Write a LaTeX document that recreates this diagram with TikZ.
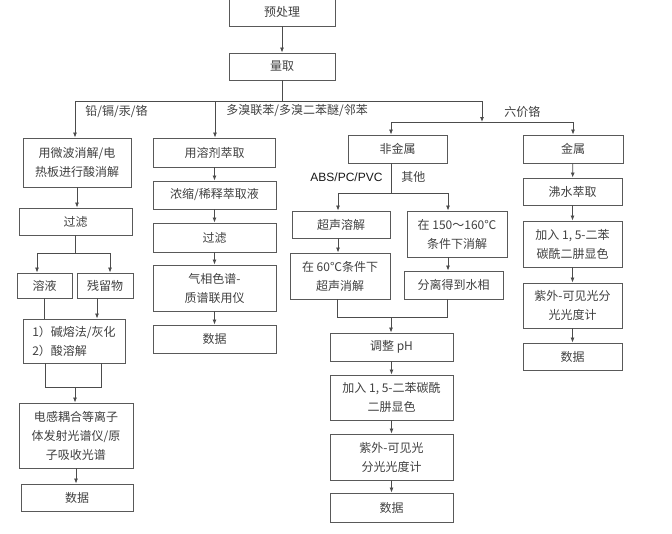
\documentclass[tikz,border=0pt]{standalone}
\usepackage{fontspec}
\usepackage{tikz}
\usetikzlibrary{arrows.meta}
\newfontfamily\cjkfont{Noto Sans CJK SC}
\newfontfamily\absfont{Liberation Sans}

\begin{document}
\begin{tikzpicture}[x=1pt,y=-1pt,line width=0.8pt,color=black!70,
            box/.style = {draw=black!65, line width=0.9pt, inner sep=0pt,
                        align=center, text=black!75,
                        font=\cjkfont\fontsize{12}{19}\selectfont},
            arr/.style = {-{Latex[length=5pt,width=4pt]}},
            lbl/.style = {anchor=west, inner sep=0pt, text=black!75,
                        font=\cjkfont\fontsize{12}{14}\selectfont}]
            \useasboundingbox (0,0) rectangle (672,533);
            % Top steps
            \node[box,minimum width=106,minimum height=29] (pre) at (282,11.5) {预处理};
            \node[box,minimum width=106,minimum height=27] (liang) at (282,66.5) {量取};
            % Branch labels
            \node[lbl] (l1) at (85,111) {铅/镉/汞/铬};
            \node[lbl] (l2) at (226,111) {多溴联苯/多溴二苯醚/邻苯};
            \node[lbl] (l3) at (504,112) {六价铬};
            % Column 1: metals
            \node[box,minimum width=108,minimum height=49] (c1a) at (77,162.5) {用微波消解/电\\热板进行酸消解};
            \node[box,minimum width=113,minimum height=27] (c1b) at (75.5,221.5) {过滤};
            \node[box,minimum width=55,minimum height=25] (sol) at (44.5,285.5) {溶液};
            \node[box,minimum width=56,minimum height=25] (res) at (105,285.5) {残留物};
            \node[box,align=left,minimum width=102,minimum height=44] (c1c) at (74,341) {1）碱熔法/灰化\\2）酸溶解};
            \node[box,minimum width=114,minimum height=65] (c1d) at (76,435.5) {电感耦合等离子\\体发射光谱仪/原\\子吸收光谱};
            \node[box,minimum width=112,minimum height=27] (c1e) at (77,497.5) {数据};
            % Column 2: PBB / PBDE
            \node[box,minimum width=122,minimum height=29] (c2a) at (214.5,152.5) {用溶剂萃取};
            \node[box,minimum width=123,minimum height=28] (c2b) at (214.5,195) {浓缩/稀释萃取液};
            \node[box,minimum width=123,minimum height=29] (c2c) at (214.5,237.5) {过滤};
            \node[box,minimum width=123,minimum height=46] (c2d) at (214.5,288) {气相色谱-\\质谱联用仪};
            \node[box,minimum width=123,minimum height=28] (c2e) at (214.5,339) {数据};
            % Column 3: non-metal
            \node[box,minimum width=99,minimum height=28] (c3a) at (397.5,149) {非金属};
            \node[anchor=west,inner sep=0pt,text=black!90,font=\absfont\fontsize{12}{14}\selectfont] (l4) at (310,177) {ABS/PC/PVC};
            \node[lbl] (l5) at (401,177) {其他};
            \node[box,minimum width=98,minimum height=27] (c3b) at (341,224.5) {超声溶解};
            \node[box,minimum width=100,minimum height=46] (c3c) at (340,276) {在 60℃条件下\\超声消解};
            \node[box,minimum width=100,minimum height=46] (c3d) at (457,234) {在 150～160℃\\条件下消解};
            \node[box,minimum width=99,minimum height=28] (c3e) at (453.5,285) {分离得到水相};
            \node[box,minimum width=123,minimum height=28] (c3f) at (391.5,347) {调整 pH};
            \node[box,minimum width=123,minimum height=45] (c3g) at (391.5,397.5) {加入 1, 5-二苯碳酰\\二肼显色};
            \node[box,minimum width=123,minimum height=46] (c3h) at (391.5,457) {紫外-可见光\\分光光度计};
            \node[box,minimum width=123,minimum height=29] (c3i) at (391.5,507.5) {数据};
            % Column 4: metal
            \node[box,minimum width=100,minimum height=28] (c4a) at (573,149) {金属};
            \node[box,minimum width=99,minimum height=27] (c4b) at (572.5,191.5) {沸水萃取};
            \node[box,minimum width=99,minimum height=46] (c4c) at (572.5,244) {加入 1, 5-二苯\\碳酰二肼显色};
            \node[box,minimum width=99,minimum height=45] (c4d) at (572.5,305.5) {紫外-可见光分\\光光度计};
            \node[box,minimum width=99,minimum height=27] (c4e) at (572.5,356.5) {数据};
            % Split points
            \coordinate (b1) at (75,101);
            \coordinate (b2) at (215,101);
            \coordinate (b3) at (482,101);
            \coordinate (b4) at (482,122);
            \coordinate (b5) at (391,122);
            \coordinate (b6) at (573,122);
            \coordinate (s1) at (75,253);
            \coordinate (s2) at (37,253);
            \coordinate (s3) at (110,253);
            \coordinate (m1) at (45,387);
            \coordinate (m2) at (101,387);
            \coordinate (m3) at (75,387);
            \coordinate (n1) at (338,193);
            \coordinate (n2) at (448,193);
            \coordinate (j1) at (337,317);
            \coordinate (j2) at (447,317);
            \coordinate (j3) at (391,317);
            % Top connectors
            \draw[arr] (pre) -- (liang);
            \draw (liang) -- (liang |- b1);
            \draw (b1) -- (b3);
            \draw[arr] (b1) -- (b1 |- c1a.north);
            \draw[arr] (b2) -- (b2 |- c2a.north);
            \draw[arr] (b3) -- (b4);
            \draw (b5) -- (b6);
            \draw[arr] (b5) -- (b5 |- c3a.north);
            \draw[arr] (b6) -- (b6 |- c4a.north);
            % Column 1 connectors
            \draw[arr] (c1a.south) -- (c1a.south |- c1b.north);
            \draw (c1b.south -| s1) -- (s1);
            \draw (s2) -- (s3);
            \draw[arr] (s2) -- (s2 |- sol.north);
            \draw[arr] (s3) -- (s3 |- res.north);
            \draw (sol.south) -- (sol.south |- c1c.north);
            \draw[arr] ([xshift=-8]res.south) -- ([xshift=-8]res.south |- c1c.north);
            \draw (m1 |- c1c.south) -- (m1) -- (m2) -- (m2 |- c1c.south);
            \draw[arr] (m3) -- (m3 |- c1d.north);
            \draw[arr] (c1d.south) -- (c1d.south |- c1e.north);
            % Column 2 connectors
            \draw[arr] (c2a) -- (c2b);
            \draw[arr] (c2b) -- (c2c);
            \draw[arr] (c2c) -- (c2d);
            \draw[arr] (c2d) -- (c2e);
            % Column 3 connectors
            \draw (c3a.south -| b5) -- (b5 |- n1);
            \draw (n1) -- (n2);
            \draw[arr] (n1) -- (n1 |- c3b.north);
            \draw[arr] (n2) -- (n2 |- c3d.north);
            \draw[arr] (n1 |- c3b.south) -- (n1 |- c3c.north);
            \draw[arr] (n2 |- c3d.south) -- (n2 |- c3e.north);
            \draw (j1 |- c3c.south) -- (j1) -- (j2) -- (j2 |- c3e.south);
            \draw[arr] (j3) -- (j3 |- c3f.north);
            \draw[arr] (c3f) -- (c3g);
            \draw[arr] (c3g) -- (c3h);
            \draw[arr] (c3h) -- (c3i);
            % Column 4 connectors
            \draw[arr] (c4a) -- (c4b);
            \draw[arr] (c4b) -- (c4c);
            \draw[arr] (c4c) -- (c4d);
            \draw[arr] (c4d) -- (c4e);
        \end{tikzpicture}
\end{document}
